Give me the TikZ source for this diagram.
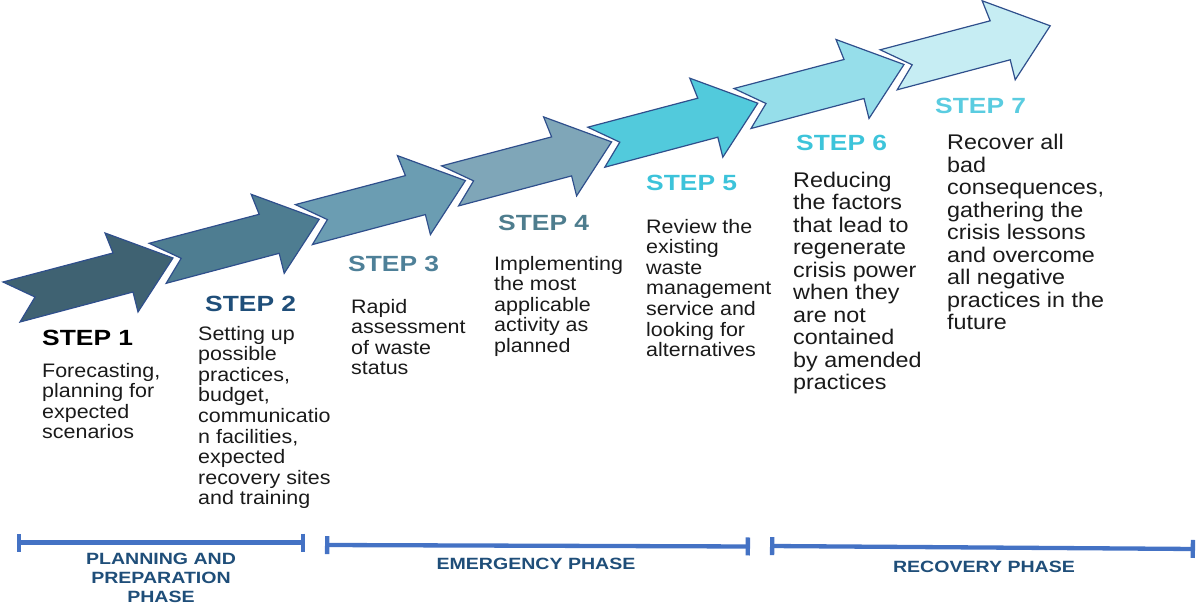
\documentclass[tikz,border=0pt]{standalone}
\usepackage{fontspec}
\setmainfont{Liberation Sans}[FakeStretch=1.1]
\newfontfamily\stepfont{Liberation Sans}[FakeStretch=1.2]
\usetikzlibrary{arrows.meta}

\definecolor{arrowA}{HTML}{3F6272}
\definecolor{arrowB}{HTML}{4E7D91}
\definecolor{arrowC}{HTML}{6B9DB2}
\definecolor{arrowD}{HTML}{7FA6B8}
\definecolor{arrowE}{HTML}{52CADC}
\definecolor{arrowF}{HTML}{96DEEA}
\definecolor{arrowG}{HTML}{C6EDF3}
\definecolor{edgeblue}{HTML}{2F4F8C}
\definecolor{bodyblack}{HTML}{1A1A1A}
\definecolor{phaseblue}{HTML}{1F4E79}
\definecolor{barblue}{HTML}{4472C4}

\begin{document}
\begin{tikzpicture}[x=1pt,y=-1pt,
    steptitle/.style={anchor=base west,inner sep=0pt,font=\stepfont\bfseries\fontsize{22}{26}\selectfont},
    steptext/.style={anchor=base west,inner sep=0pt,align=left,text=bodyblack,font=\fontsize{19.5}{20.6}\selectfont},
    bigtext/.style={steptext,font=\fontsize{21.2}{22.5}\selectfont},
    phaselabel/.style={anchor=base,inner sep=0pt,align=center,text=phaseblue,font=\stepfont\bfseries\fontsize{16.3}{19}\selectfont},
    bracket/.style={barblue,line width=4.3pt,{Bar[width=18pt]}-{Bar[width=18pt]}}]
    \useasboundingbox (0,0) rectangle (1200,604);

    % the seven arrows
    \foreach \col [count=\i from 0] in {arrowA,arrowB,arrowC,arrowD,arrowE,arrowF,arrowG}
        \filldraw[fill=\col,draw=edgeblue,line width=1.2pt,shift={(\i*146.2,-\i*38.7)}]
            (3,282) -- (113,253) -- (105,233) -- (173,258) -- (138,312) -- (133,292) -- (20,322) -- (35,297) -- cycle;

    % step titles
    \node[steptitle,text=black] (step1) at (42,345) {STEP 1};
    \node[steptitle,text=phaseblue] (step2) at (205,311) {STEP 2};
    \node[steptitle,text={rgb,255:red,78;green,128;blue,152}] (step3) at (348,272) {STEP 3};
    \node[steptitle,text={rgb,255:red,78;green,125;blue,142}] (step4) at (498,231) {STEP 4};
    \node[steptitle,text={rgb,255:red,60;green,195;blue,218}] (step5) at (646,191) {STEP 5};
    \node[steptitle,text={rgb,255:red,61;green,196;blue,218}] (step6) at (796,151) {STEP 6};
    \node[steptitle,text={rgb,255:red,90;green,204;blue,224}] (step7) at (935,114) {STEP 7};

    % step texts (placed at the baseline of their last line)
    \node[steptext] (txt1) at (42,438.8) {Forecasting,\\planning for\\expected\\scenarios};
    \node[steptext] (txt2) at (198,504.8) {Setting up\\possible\\practices,\\budget,\\communicatio\\n facilities,\\expected\\recovery sites\\and training};
    \node[steptext] (txt3) at (351,374.8) {Rapid\\assessment\\of waste\\status};
    \node[steptext] (txt4) at (494,352.4) {Implementing\\the most\\applicable\\activity as\\planned};
    \node[steptext] (txt5) at (646,356.6) {Review the\\existing\\waste\\management\\service and\\looking for\\alternatives};
    \node[bigtext] (txt6) at (793,389.5) {Reducing\\the factors\\that lead to\\regenerate\\crisis power\\when they\\are not\\contained\\by amended\\practices};
    \node[bigtext] (txt7) at (947,330) {Recover all\\bad\\consequences,\\gathering the\\crisis lessons\\and overcome\\all negative\\practices in the\\future};

    % phases
    \coordinate (planL) at (17,542.5);
    \coordinate (planR) at (305,542.5);
    \coordinate (emerL) at (325,545);
    \coordinate (emerR) at (750,546.5);
    \coordinate (recoL) at (770,546);
    \coordinate (recoR) at (1195,549);
    \draw[bracket] (planL) -- (planR);
    \draw[bracket] (emerL) -- (emerR);
    \draw[bracket] (recoL) -- (recoR);
    \node[phaselabel] (plan) at (161,602) {PLANNING AND\\PREPARATION\\PHASE};
    \node[phaselabel] (emer) at (536,569) {EMERGENCY PHASE};
    \node[phaselabel] (reco) at (984,572) {RECOVERY PHASE};
\end{tikzpicture}
\end{document}
